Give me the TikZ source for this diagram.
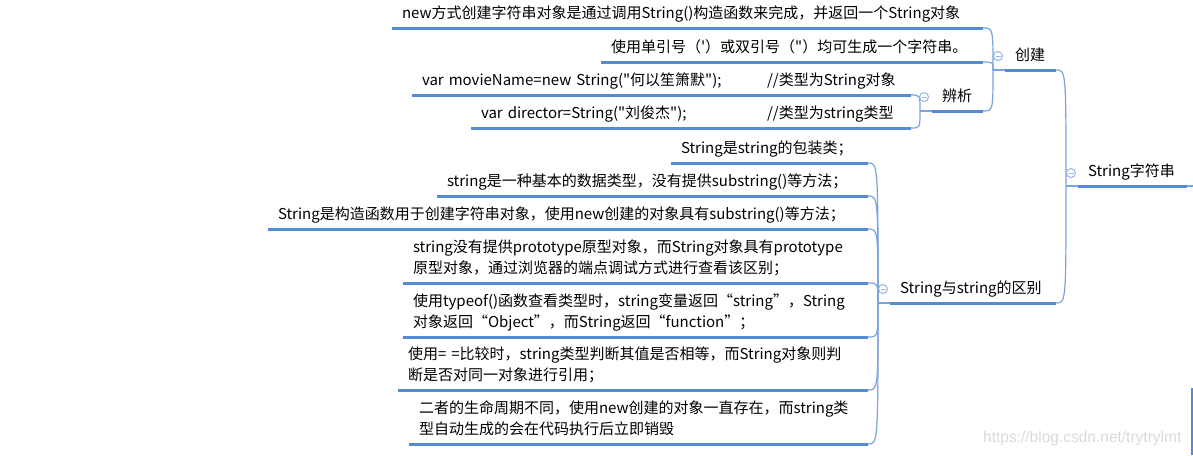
\documentclass[tikz,border=0pt]{standalone}
\usepackage{fontspec}
\setmainfont{Noto Sans CJK SC}[Ligatures=TeXOff]
\newfontfamily\wmfont{Liberation Sans}
\definecolor{ulc}{RGB}{84,139,212}
\definecolor{cnc}{RGB}{122,164,224}
\definecolor{btc}{RGB}{150,182,228}
\definecolor{wmc}{RGB}{218,218,218}
\newcommand\tstrut{\rule[-4pt]{0pt}{16pt}}
\tikzset{
  topic/.style={anchor=south west, inner xsep=10pt, inner ysep=5.5pt, outer sep=0pt,
    align=left, font=\fontsize{15}{21}\selectfont,
    execute at begin node=\tstrut, execute at end node=\tstrut},
  uline/.style={draw=ulc, line width=3pt},
  conn/.style={draw=cnc, line width=1.2pt},
  btn/.style={circle, draw=btc, fill=white, line width=1pt, minimum size=9pt, inner sep=0pt,
    font=\fontsize{1}{1}\selectfont},
  wm/.style={anchor=base west, inner sep=0pt, text=wmc, font=\wmfont\fontsize{15.5}{18}\selectfont}
}
\begin{document}
\begin{tikzpicture}[x=1pt,y=-1pt]
\useasboundingbox (0,0) rectangle (1193,455);
\fill[white] (0,0) rectangle (1193,455);

% topics
\node[topic, text width=89pt]  (R)  at (1078,186) {String字符串};
\node[topic, text width=31pt]  (A)  at (1005,70)  {创建};
\node[topic, text width=146pt] (B)  at (890,303)  {String与string的区别};
\node[topic, text width=31pt]  (D)  at (932,111)  {辨析};
\node[topic, text width=571pt] (C1) at (392,28)   {new方式创建字符串对象是通过调用String()构造函数来完成，并返回一个String对象};
\node[topic, text width=362pt] (C2) at (601,62)   {使用单引号（'）或双引号（"）均可生成一个字符串。};
\node[topic, text width=479pt] (D1) at (412,95)   {\makebox[345pt][l]{var movieName=new String("何以笙箫默");}//类型为String对象};
\node[topic, text width=420pt] (D2) at (471,128)  {\makebox[286pt][l]{var director=String("刘俊杰");}//类型为string类型};
\node[topic, text width=177pt] (E1) at (671,163)  {String是string的包装类；};
\node[topic, text width=411pt] (E2) at (437,196)  {string是一种基本的数据类型，没有提供substring()等方法；};
\node[topic, text width=580pt] (E3) at (268,229)  {String是构造函数用于创建字符串对象，使用new创建的对象具有substring()等方法；};
\node[topic, text width=445pt] (E4) at (403,283)  {string没有提供prototype原型对象，而String对象具有prototype\\原型对象，通过浏览器的端点调试方式进行查看该区别；};
\node[topic, text width=445pt] (E5) at (403,337)  {使用typeof()函数查看类型时，string变量返回“string”，String\\对象返回“Object”，而String返回“function”；};
\node[topic, text width=450pt] (E6) at (398,390)  {使用= =比较时，string类型判断其值是否相等，而String对象则判\\断是否对同一对象进行引用；};
\node[topic, text width=439pt] (E7) at (409,444)  {二者的生命周期不同，使用new创建的对象一直存在，而string类\\型自动生成的会在代码执行后立即销毁};

% joints
\coordinate (jR) at (1066,186);
\coordinate (jA) at (993,70);
\coordinate (jB) at (878,303);
\coordinate (jD) at (920,111);
\coordinate (edge) at (1193,186);
\coordinate (v1) at (1192,388);
\coordinate (v2) at (1192,455);

% connectors
\draw[conn] (jR) -- (R.south west);
\draw[conn] (R.south east) -- (edge);
\draw[conn] (A.south east) .. controls (A.south east -| jR) .. (jR);
\draw[conn] (B.south east) .. controls (B.south east -| jR) .. (jR);

\draw[conn] (jA) -- (A.south west);
\foreach \c in {C1,C2,D}
  \draw[conn] (\c.south east) .. controls (\c.south east -| jA) .. (jA);

\draw[conn] (jD) -- (D.south west);
\foreach \c in {D1,D2}
  \draw[conn] (\c.south east) .. controls (\c.south east -| jD) .. (jD);

\draw[conn] (jB) -- (B.south west);
\foreach \c in {E1,E2,E3,E4,E5,E6,E7}
  \draw[conn] (\c.south east) .. controls (\c.south east -| jB) .. (jB);

\draw[draw=ulc, line width=1.5pt] (v1) -- (v2);

% underlines
\foreach \n in {R,A,B,D,C1,C2,D1,D2,E1,E2,E3,E4,E5,E6,E7}
  \draw[uline] (\n.south west) -- (\n.south east);

% collapse buttons
\node[btn] (bR) at (1071,173) {\textcolor{btc}{\rule[-0.5pt]{5pt}{1pt}}};
\node[btn] (bA) at (998,56)   {\textcolor{btc}{\rule[-0.5pt]{5pt}{1pt}}};
\node[btn] (bD) at (924,97)   {\textcolor{btc}{\rule[-0.5pt]{5pt}{1pt}}};
\node[btn] (bB) at (883,289)  {\textcolor{btc}{\rule[-0.5pt]{5pt}{1pt}}};

% watermark
\node[wm] (wmk) at (983,442.5) {https://blog.csdn.net/trytrylmt};
\end{tikzpicture}
\end{document}
